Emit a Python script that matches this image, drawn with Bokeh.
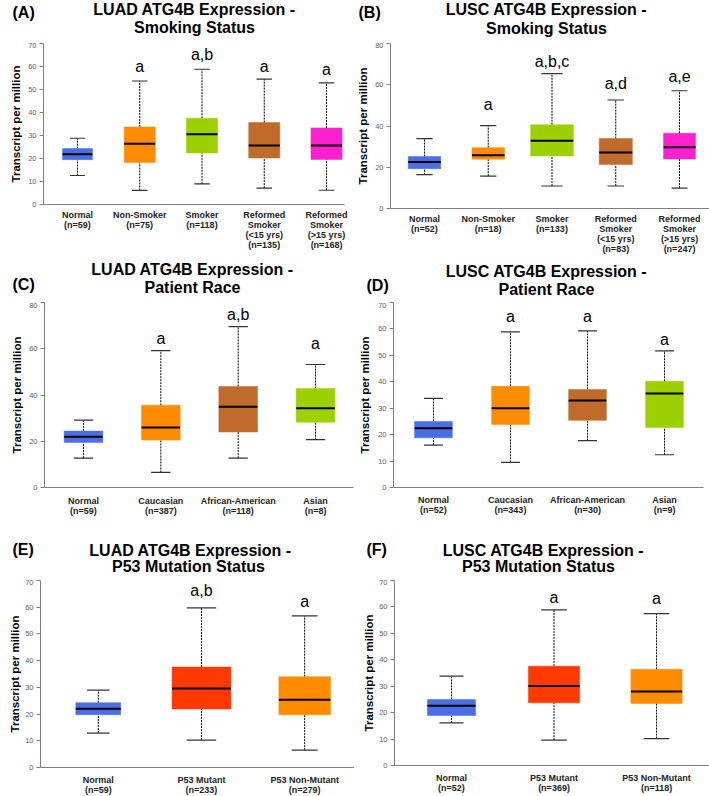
from bokeh.plotting import figure
from bokeh.layouts import column, row
from bokeh.models import FixedTicker, Range1d, ColumnDataSource
from bokeh.core.properties import value
from bokeh.embed import file_html
from bokeh.resources import INLINE

FONT = "Liberation Sans"
PAGE_W = 709

# ---------------- data: box summaries (lower whisker, Q1, median, Q3, upper whisker) ----------------
# (A) LUAD - smoking status
a_groups = ["Normal\n(n=59)", "Non-Smoker\n(n=75)", "Smoker\n(n=118)",
            "Reformed\nSmoker\n(<15 yrs)\n(n=135)", "Reformed\nSmoker\n(>15 yrs)\n(n=168)"]
a_low = [12.6, 6.1, 9.0, 7.1, 6.2]
a_q1 = [19.5, 18.3, 22.4, 20.2, 19.6]
a_med = [21.8, 26.4, 30.5, 25.7, 25.7]
a_q3 = [24.3, 33.7, 37.5, 35.6, 33.3]
a_high = [28.8, 53.7, 58.8, 54.5, 52.9]
a_sig = ["", "a", "a,b", "a", "a"]
a_sig_y = [0, 57.4, 62.4, 57.4, 56.2]

# (B) LUSC - smoking status
b_groups = ["Normal\n(n=52)", "Non-Smoker\n(n=18)", "Smoker\n(n=133)",
            "Reformed\nSmoker\n(<15 yrs)\n(n=83)", "Reformed\nSmoker\n(>15 yrs)\n(n=247)"]
b_low = [16.4, 15.7, 10.9, 10.9, 9.9]
b_q1 = [19.3, 23.9, 25.5, 21.3, 24.0]
b_med = [22.6, 25.8, 32.9, 27.1, 29.7]
b_q3 = [25.2, 29.5, 40.6, 33.9, 36.5]
b_high = [33.9, 40.2, 65.4, 52.6, 57.1]
b_sig = ["", "a", "a,b,c", "a,d", "a,e"]
b_sig_y = [0, 47.4, 68.6, 57.6, 61.2]

# (C) LUAD - patient race
c_groups = ["Normal\n(n=59)", "Caucasian\n(n=387)", "African-American\n(n=118)", "Asian\n(n=8)"]
c_low = [12.7, 6.5, 12.7, 20.7]
c_q1 = [19.5, 20.5, 24.0, 28.2]
c_med = [22.0, 26.0, 34.9, 34.3]
c_q3 = [24.4, 35.6, 43.7, 42.8]
c_high = [29.1, 59.2, 69.6, 53.2]
c_sig = ["", "a", "a,b", "a"]
c_sig_y = [0, 61.8, 72.3, 59.7]

# (D) LUSC - patient race
d_groups = ["Normal\n(n=52)", "Caucasian\n(n=343)", "African-American\n(n=30)", "Asian\n(n=9)"]
d_low = [16.0, 9.5, 17.7, 12.4]
d_q1 = [18.8, 23.8, 25.4, 22.7]
d_med = [22.4, 30.0, 32.9, 35.6]
d_q3 = [25.0, 38.3, 37.1, 40.2]
d_high = [33.7, 58.9, 59.3, 51.7]
d_sig = ["", "a", "a", "a"]
d_sig_y = [0, 62.4, 62.4, 53.9]

# (E) LUAD - P53 mutation status
e_groups = ["Normal\n(n=59)", "P53 Mutant\n(n=233)", "P53 Non-Mutant\n(n=279)"]
e_low = [12.9, 10.25, 6.5]
e_q1 = [19.75, 21.9, 19.75]
e_med = [22.0, 29.6, 25.4]
e_q3 = [24.25, 37.6, 34.0]
e_high = [29.0, 59.75, 56.75]
e_sig = ["", "a,b", "a"]
e_sig_y = [0, 64.1, 60.0]

# (F) LUSC - P53 mutation status
f_groups = ["Normal\n(n=52)", "P53 Mutant\n(n=369)", "P53 Non-Mutant\n(n=118)"]
f_low = [16.1, 9.6, 10.2]
f_q1 = [18.9, 23.7, 23.5]
f_med = [22.6, 30.1, 28.0]
f_q3 = [25.0, 37.6, 36.4]
f_high = [33.8, 58.9, 57.5]
f_sig = ["", "a", "a"]
f_sig_y = [0, 61.2, 60.8]

# ---------------- styling / layout ----------------
BLUE, ORANGE, GREEN, BROWN, PINK, RED = "#4a6fe3", "#ff8c00", "#9dd000", "#c06a2c", "#ff21cf", "#ff3a00"

# heading strips: one per row of panels; anchors are (page x, y inside the strip)
headings = [
    dict(height=42, items=[
        ("(A)", 12, 12, "left"), ("LUAD ATG4B Expression -", 194, 9, "center"), ("Smoking Status", 194, 27, "center"),
        ("(B)", 358, 12, "left"), ("LUSC ATG4B Expression -", 546, 9, "center"), ("Smoking Status", 546, 28, "center"),
    ]),
    dict(height=44, items=[
        ("(C)", 12, 26, "left"), ("LUAD ATG4B Expression -", 192, 11, "center"), ("Patient Race", 192, 29, "center"),
        ("(D)", 366, 27, "left"), ("LUSC ATG4B Expression -", 546, 13, "center"), ("Patient Race", 546, 31, "center"),
    ]),
    dict(height=54, items=[
        ("(E)", 12, 24, "left"), ("LUAD ATG4B Expression -", 190, 25, "center"), ("P53 Mutation Status", 188, 41, "center"),
        ("(F)", 366, 24, "left"), ("LUSC ATG4B Expression -", 543, 25, "center"), ("P53 Mutation Status", 538, 41, "center"),
    ]),
]

panels = [
    dict(groups=a_groups, low=a_low, q1=a_q1, med=a_med, q3=a_q3, high=a_high, sig=a_sig, sig_y=a_sig_y,
         colors=[BLUE, ORANGE, GREEN, BROWN, PINK], widths=[0.48, 0.5, 0.5, 0.5, 0.5],
         ymax=70, ystep=10, x0=0.454, x1=5.289,
         bt=1, fw=301, fh=161, bl=43, br=10, bb=53, standoff=5, ylab_standoff=3),
    dict(groups=b_groups, low=b_low, q1=b_q1, med=b_med, q3=b_q3, high=b_high, sig=b_sig, sig_y=b_sig_y,
         colors=[BLUE, ORANGE, GREEN, BROWN, PINK], widths=[0.51, 0.51, 0.67, 0.52, 0.5],
         ymax=80, ystep=20, x0=0.467, x1=5.486,
         bt=1, fw=320, fh=165, bl=33, br=2, bb=50, standoff=5, ylab_standoff=3),
    dict(groups=c_groups, low=c_low, q1=c_q1, med=c_med, q3=c_q3, high=c_high, sig=c_sig, sig_y=c_sig_y,
         colors=[BLUE, ORANGE, BROWN, GREEN], widths=[0.5, 0.5, 0.5, 0.5],
         ymax=80, ystep=20, x0=0.496, x1=4.491,
         bt=0, fw=309, fh=185, bl=44, br=1, bb=38, standoff=8, ylab_standoff=3),
    dict(groups=d_groups, low=d_low, q1=d_q1, med=d_med, q3=d_q3, high=d_high, sig=d_sig, sig_y=d_sig_y,
         colors=[BLUE, ORANGE, BROWN, GREEN], widths=[0.49, 0.49, 0.49, 0.49],
         ymax=70, ystep=10, x0=0.481, x1=4.506,
         bt=0, fw=310, fh=185, bl=39, br=6, bb=38, standoff=7, ylab_standoff=4),
    dict(groups=e_groups, low=e_low, q1=e_q1, med=e_med, q3=e_q3, high=e_high, sig=e_sig, sig_y=e_sig_y,
         colors=[BLUE, RED, ORANGE], widths=[0.435, 0.57, 0.5],
         ymax=70, ystep=10, x0=0.44, x1=3.483,
         bt=1, fw=314, fh=187, bl=40, br=0, bb=29, standoff=7, ylab_standoff=1),
    dict(groups=f_groups, low=f_low, q1=f_q1, med=f_med, q3=f_q3, high=f_high, sig=f_sig, sig_y=f_sig_y,
         colors=[BLUE, RED, ORANGE], widths=[0.47, 0.5, 0.5],
         ymax=70, ystep=10, x0=0.444, x1=3.507,
         bt=1, fw=314, fh=185, bl=40, br=1, bb=29, standoff=7, ylab_standoff=1),
]


def make_heading(cfg):
    h = cfg["height"]
    p = figure(width=PAGE_W, height=h, x_range=Range1d(0, PAGE_W), y_range=Range1d(h, 0),
               x_axis_location=None, y_axis_location=None, title=None, tools="",
               toolbar_location=None, output_backend="svg",
               min_border_left=0, min_border_right=0, min_border_top=0, min_border_bottom=0)
    p.outline_line_color = None
    p.grid.visible = False
    for align in ("left", "center"):
        items = [it for it in cfg["items"] if it[3] == align]
        p.text(x=[it[1] for it in items], y=[it[2] for it in items], text=[it[0] for it in items],
               text_align=align, text_baseline="middle", text_font=value(FONT),
               text_font_size="16px", text_font_style="bold", text_color="black")
    return p


def make_plot(cfg):
    n = len(cfg["groups"])
    xs = list(range(1, n + 1))
    w = cfg["widths"]
    src = ColumnDataSource(dict(
        x=xs, w=w, low=cfg["low"], q1=cfg["q1"], med=cfg["med"], q3=cfg["q3"], high=cfg["high"],
        color=cfg["colors"],
        left=[x - wi / 2 for x, wi in zip(xs, w)], right=[x + wi / 2 for x, wi in zip(xs, w)],
        cl=[x - wi / 4 for x, wi in zip(xs, w)], cr=[x + wi / 4 for x, wi in zip(xs, w)],
    ))

    p = figure(frame_width=cfg["fw"], frame_height=cfg["fh"],
               min_border_left=cfg["bl"], min_border_right=cfg["br"],
               min_border_top=cfg["bt"], min_border_bottom=cfg["bb"],
               x_range=Range1d(cfg["x0"], cfg["x1"]), y_range=Range1d(0, cfg["ymax"]),
               title=None, tools="", toolbar_location=None, output_backend="svg")
    p.outline_line_color = None
    p.grid.visible = False

    # whiskers (dashed) and caps
    p.segment(x0="x", y0="q3", x1="x", y1="high", source=src, line_color="black",
              line_width=1, line_dash="2 1")
    p.segment(x0="x", y0="low", x1="x", y1="q1", source=src, line_color="black",
              line_width=1, line_dash="2 1")
    p.segment(x0="cl", y0="high", x1="cr", y1="high", source=src, line_color="#333333", line_width=1.2)
    p.segment(x0="cl", y0="low", x1="cr", y1="low", source=src, line_color="#333333", line_width=1.2)
    # boxes and medians
    p.vbar(x="x", width="w", bottom="q1", top="q3", source=src, fill_color="color",
           line_color="color", line_width=0.5)
    p.segment(x0="left", y0="med", x1="right", y1="med", source=src, line_color="black", line_width=2)

    # significance letters
    sx = [x for x, s in zip(xs, cfg["sig"]) if s]
    sy = [y for y, s in zip(cfg["sig_y"], cfg["sig"]) if s]
    st = [s for s in cfg["sig"] if s]
    p.text(x=sx, y=sy, text=st, text_align="center", text_baseline="alphabetic", y_offset=-6,
           text_font=value(FONT), text_font_size="16px", text_color="black")

    # y axis
    ya = p.yaxis[0]
    ya.ticker = FixedTicker(ticks=list(range(0, cfg["ymax"] + 1, cfg["ystep"])))
    ya.axis_line_color = "#7f7f7f"
    ya.major_tick_line_color = "#7f7f7f"
    ya.major_tick_out = 4
    ya.major_tick_in = 0
    ya.minor_tick_line_color = None
    ya.major_label_text_font = FONT
    ya.major_label_text_font_size = "7.5px"
    ya.major_label_text_color = "#5f5f5f"
    ya.major_label_standoff = 3
    ya.axis_label = "Transcript per million"
    ya.axis_label_text_font = FONT
    ya.axis_label_text_font_size = "11.5px"
    ya.axis_label_text_font_style = "bold"
    ya.axis_label_text_color = "black"
    ya.axis_label_standoff = cfg["ylab_standoff"]

    # x axis with group labels
    xa = p.xaxis[0]
    xa.ticker = FixedTicker(ticks=xs)
    xa.major_label_overrides = {x: g for x, g in zip(xs, cfg["groups"])}
    xa.axis_line_color = "#7f7f7f"
    xa.major_tick_line_color = None
    xa.major_tick_out = 0
    xa.major_tick_in = 0
    xa.minor_tick_line_color = None
    xa.major_label_text_font = FONT
    xa.major_label_text_font_size = "9px"
    xa.major_label_text_font_style = "bold"
    xa.major_label_text_color = "#222222"
    xa.major_label_text_line_height = 1.0
    xa.major_label_standoff = cfg["standoff"]
    return p


plots = [make_plot(c) for c in panels]
heads = [make_heading(h) for h in headings]
layout = column(heads[0], row(plots[0], plots[1]),
                heads[1], row(plots[2], plots[3]),
                heads[2], row(plots[4], plots[5]))

with open("out.html", "w") as fh:
    fh.write(file_html(layout, INLINE))
